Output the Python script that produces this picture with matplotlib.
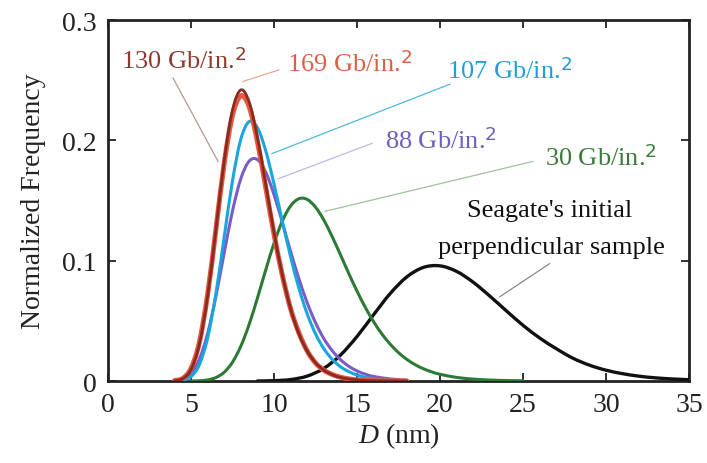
import matplotlib
matplotlib.use("Agg")
import matplotlib.pyplot as plt
from matplotlib.path import Path
from matplotlib.patches import PathPatch

# ---- data ----
x_narrow = [4.0, 4.5, 5.0, 5.5, 6.0, 6.5, 7.0, 7.5, 8.0, 8.5, 9.0, 9.5, 10.0, 10.5,
            11.0, 11.5, 12.0, 12.5, 13.0, 13.5, 14.0, 14.5, 15.0, 15.5, 16.0, 17.0, 18.0]

y_130 = [0.0002, 0.0019, 0.0095, 0.0304, 0.0704, 0.1259, 0.1831, 0.2253, 0.2419, 0.2320,
         0.2026, 0.1636, 0.1236, 0.0883, 0.0601, 0.0393, 0.0248, 0.0152, 0.0091, 0.0053,
         0.0030, 0.0017, 0.0010, 0.0005, 0.0003, 0.0001, 0.0]
y_169 = [0.0003, 0.0022, 0.0105, 0.0320, 0.0720, 0.1260, 0.1810, 0.2210, 0.2370, 0.2280,
         0.1990, 0.1610, 0.1220, 0.0880, 0.0600, 0.0400, 0.0250, 0.0150, 0.0090, 0.0055,
         0.0032, 0.0018, 0.0010, 0.0006, 0.0003, 0.0001, 0.0]
y_107 = [0.0002, 0.0006, 0.0036, 0.0135, 0.0357, 0.0727, 0.1199, 0.1665, 0.2009, 0.2156,
         0.2106, 0.1914, 0.1637, 0.1329, 0.1032, 0.0771, 0.0558, 0.0392, 0.0269, 0.0181,
         0.0119, 0.0078, 0.0050, 0.0031, 0.0020, 0.0007, 0.0002]
y_88 = [0.0003, 0.0016, 0.0064, 0.0181, 0.0395, 0.0704, 0.1066, 0.1414, 0.1681, 0.1827,
        0.1840, 0.1736, 0.1549, 0.1318, 0.1077, 0.0850, 0.0650, 0.0485, 0.0353, 0.0253,
        0.0178, 0.0123, 0.0084, 0.0057, 0.0038, 0.0017, 0.0007]

x_30 = [5.0, 5.5, 6.0, 6.5, 7.0, 7.5, 8.0, 8.5, 9.0, 9.5, 10.0, 10.5, 11.0, 11.5, 12.0,
        12.5, 13.0, 13.5, 14.0, 14.5, 15.0, 15.5, 16.0, 16.5, 17.0, 17.5, 18.0, 18.5,
        19.0, 19.5, 20.0, 21.0, 22.0, 23.0, 24.0, 25.0]
y_30 = [0.0000, 0.0002, 0.0009, 0.0029, 0.0073, 0.0157, 0.0289, 0.0470, 0.0689, 0.0923,
        0.1145, 0.1329, 0.1455, 0.1515, 0.1509, 0.1445, 0.1338, 0.1201, 0.1050, 0.0895,
        0.0747, 0.0612, 0.0493, 0.0391, 0.0306, 0.0236, 0.0180, 0.0136, 0.0102, 0.0076,
        0.0056, 0.0030, 0.0016, 0.0008, 0.0004, 0.0002]

x_sg = [9.0, 10.0, 11.0, 12.0, 13.0, 14.0, 15.0, 16.0, 17.0, 18.0, 19.0, 20.0, 21.0,
        22.0, 23.0, 24.0, 25.0, 26.0, 27.0, 28.0, 29.0, 30.0, 31.0, 32.0, 33.0, 34.0, 35.0]
y_sg = [0.0000, 0.0003, 0.0012, 0.0041, 0.0105, 0.0215, 0.0370, 0.0551, 0.0727, 0.0865,
        0.0944, 0.0957, 0.0911, 0.0821, 0.0706, 0.0583, 0.0463, 0.0358, 0.0269, 0.0190,
        0.0132, 0.0090, 0.0061, 0.0040, 0.0026, 0.0017, 0.0011]

x_ticks = [0, 5, 10, 15, 20, 25, 30, 35]
y_ticks = [0, 0.1, 0.2, 0.3]
y_tick_labels = ["0", "0.1", "0.2", "0.3"]

labels = ["130 Gb/in.$^{2}$", "169 Gb/in.$^{2}$", "107 Gb/in.$^{2}$",
          "88 Gb/in.$^{2}$", "30 Gb/in.$^{2}$"]

# ---- style ----
plt.rcParams['font.family'] = ['Liberation Serif', 'DejaVu Serif']
plt.rcParams['mathtext.fontset'] = 'custom'
plt.rcParams['mathtext.rm'] = 'DejaVu Sans'
plt.rcParams['mathtext.it'] = 'Liberation Serif:italic'

c130 = "#8a2a20"
c169 = "#e4583f"
c107 = "#18a6dc"
c88 = "#7a5cc8"
c30 = "#2c7a35"
csg = "#111111"

fig = plt.figure(figsize=(7.07, 4.64), dpi=100)
ax = fig.add_axes([0.1528, 0.1767, 0.8217, 0.7780])


def smooth_line(ax, xs, ys, color, lw, z):
    """Draw a smooth curve through the given points (Catmull-Rom as cubic Beziers)."""
    n = len(xs)
    verts = [(xs[0], ys[0])]
    codes = [Path.MOVETO]
    for i in range(n - 1):
        x0, y0 = (xs[i - 1], ys[i - 1]) if i > 0 else (xs[i], ys[i])
        x1, y1 = xs[i], ys[i]
        x2, y2 = xs[i + 1], ys[i + 1]
        x3, y3 = (xs[i + 2], ys[i + 2]) if i + 2 < n else (xs[i + 1], ys[i + 1])
        c1 = (x1 + (x2 - x0) / 6.0, y1 + (y2 - y0) / 6.0)
        c2 = (x2 - (x3 - x1) / 6.0, y2 - (y3 - y1) / 6.0)
        verts += [c1, c2, (x2, y2)]
        codes += [Path.CURVE4] * 3
    patch = PathPatch(Path(verts, codes), facecolor='none', edgecolor=color,
                      lw=lw, zorder=z, capstyle='round', joinstyle='round')
    ax.add_patch(patch)


smooth_line(ax, x_sg, y_sg, csg, 2.4, 3)
smooth_line(ax, x_30, y_30, c30, 2.2, 4)
smooth_line(ax, x_narrow, y_88, c88, 2.2, 5)
smooth_line(ax, x_narrow, y_107, c107, 2.2, 6)
smooth_line(ax, x_narrow, y_169, c169, 3.6, 7)
smooth_line(ax, x_narrow, y_130, c130, 2.0, 8)

ax.set_xlim(0, 35)
ax.set_ylim(0, 0.3)
ax.set_xticks(x_ticks)
ax.set_yticks(y_ticks)
ax.set_yticklabels(y_tick_labels)
ax.tick_params(direction='in', length=6, width=1.3, top=True, right=True,
               labelsize=20, pad=8, colors='#222222')
for s in ax.spines.values():
    s.set_linewidth(2.0)
    s.set_color('#222222')

ax.set_ylabel("Normalized Frequency", fontsize=20, labelpad=12, color='#222222')
ax.set_xlabel("$\\mathit{D}$ (nm)", fontsize=20, labelpad=2, color='#222222')

# ---- labels with leader lines ----
fs = 19
def lab(text, lx, ly, p0, p1, col, lcol, ha='left'):
    ax.text(lx, ly, text, color=col, fontsize=fs, ha=ha, va='baseline', zorder=10)
    ax.plot([p0[0], p1[0]], [p0[1], p1[1]], color=lcol, lw=0.9, zorder=2)

lab(labels[0], 0.78, 0.2600, (3.92, 0.2517), (6.63, 0.1825), "#8e3b2f", "#b09a90")
lab(labels[1], 10.8, 0.2580, (8.13, 0.2490), (10.3, 0.2585), "#de5f48", "#eaa696")
lab(labels[2], 20.4, 0.2517, (9.88, 0.1890), (20.6, 0.2467), "#1f9fd5", "#4fb8e0")
lab(labels[3], 16.7, 0.1933, (10.24, 0.1680), (15.9, 0.1975), "#6f5fc0", "#c0b6e6")
lab(labels[4], 26.3, 0.1792, (13.07, 0.1410), (25.6, 0.1825), "#3b7a3b", "#9cc49c")

ax.text(26.6, 0.1375, "Seagate's initial", color='#111111', fontsize=fs, ha='center',
        va='baseline', zorder=10)
ax.text(26.7, 0.1060, "perpendicular sample", color='#111111', fontsize=fs, ha='center',
        va='baseline', zorder=10)
ax.plot([23.6, 26.6], [0.070, 0.0975], color='#888888', lw=0.9, zorder=2)

fig.savefig("out.png", dpi=100)
